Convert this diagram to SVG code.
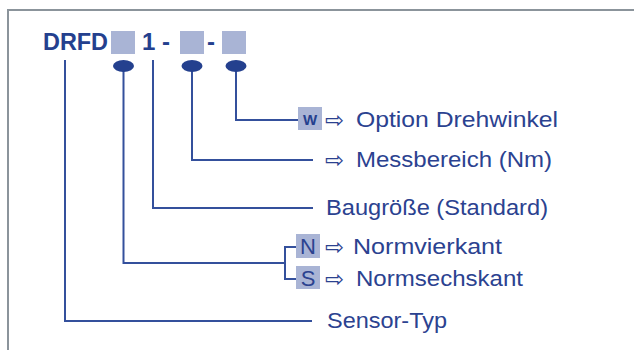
<svg xmlns="http://www.w3.org/2000/svg" width="634" height="350" viewBox="0 0 634 350">
<style>
.frame{fill:none;stroke:#8b949b;stroke-width:2}
.ln{fill:none;stroke:#34509c;stroke-width:2}
.dot{fill:#24408e}
.box{fill:#a9b4d5}
.code{font-family:"Liberation Sans",Arial,sans-serif;font-weight:bold;font-size:24px;fill:#24408e}
.lbl{font-family:"Liberation Sans",Arial,sans-serif;font-size:22px;fill:#2b4290}
.arr{font-family:"DejaVu Sans",sans-serif;font-size:23px;fill:#2b4290}
.w{font-family:"Liberation Sans",Arial,sans-serif;font-weight:bold;font-size:15px;fill:#24408e}
</style>
<rect x="0" y="0" width="634" height="350" fill="#ffffff"/>
<path class="frame" d="M8 350V10H634"/>
<g id="connectors">
<path class="ln" d="M65 60V321H312"/>
<path class="ln" d="M123.5 66V263H285"/>
<path class="ln" d="M296 247H285V279H296"/>
<path class="ln" d="M153 60V208H313"/>
<path class="ln" d="M192 66V160H313"/>
<path class="ln" d="M236 66V120H298"/>
</g>
<g id="code">
<text class="code" x="43" y="50" textLength="65" lengthAdjust="spacingAndGlyphs">DRFD</text>
<rect class="box" x="111" y="31" width="24" height="23"/>
<text class="code" x="142" y="50">1</text>
<text class="code" x="162" y="50">-</text>
<rect class="box" x="180" y="31" width="24" height="23"/>
<text class="code" x="207" y="50">-</text>
<rect class="box" x="222" y="31" width="24" height="23"/>
<ellipse class="dot" cx="123.5" cy="66" rx="10.5" ry="6"/>
<ellipse class="dot" cx="192" cy="66" rx="10.5" ry="6"/>
<ellipse class="dot" cx="236" cy="66" rx="10.5" ry="6"/>
</g>
<g id="option">
<rect class="box" x="298" y="107" width="24" height="23"/>
<text class="w" x="310" y="125" text-anchor="middle">W</text>
<text class="arr" x="325" y="128">⇨</text>
<text class="lbl" x="356" y="127" textLength="202" lengthAdjust="spacingAndGlyphs">Option Drehwinkel</text>
</g>
<g id="messbereich">
<text class="arr" x="325" y="168">⇨</text>
<text class="lbl" x="356" y="167" textLength="196" lengthAdjust="spacingAndGlyphs">Messbereich (Nm)</text>
</g>
<g id="baugroesse">
<text class="lbl" x="326" y="215" textLength="222" lengthAdjust="spacingAndGlyphs">Baugröße (Standard)</text>
</g>
<g id="normvierkant">
<rect class="box" x="296" y="234" width="24" height="24"/>
<text class="lbl" x="308" y="254" text-anchor="middle">N</text>
<text class="arr" x="325" y="255">⇨</text>
<text class="lbl" x="353" y="254" textLength="149" lengthAdjust="spacingAndGlyphs">Normvierkant</text>
</g>
<g id="normsechskant">
<rect class="box" x="296" y="266" width="24" height="23"/>
<text class="lbl" x="308" y="286" text-anchor="middle">S</text>
<text class="arr" x="325" y="287">⇨</text>
<text class="lbl" x="356" y="286" textLength="167" lengthAdjust="spacingAndGlyphs">Normsechskant</text>
</g>
<g id="sensortyp">
<text class="lbl" x="327" y="328" textLength="120" lengthAdjust="spacingAndGlyphs">Sensor-Typ</text>
</g>
</svg>
